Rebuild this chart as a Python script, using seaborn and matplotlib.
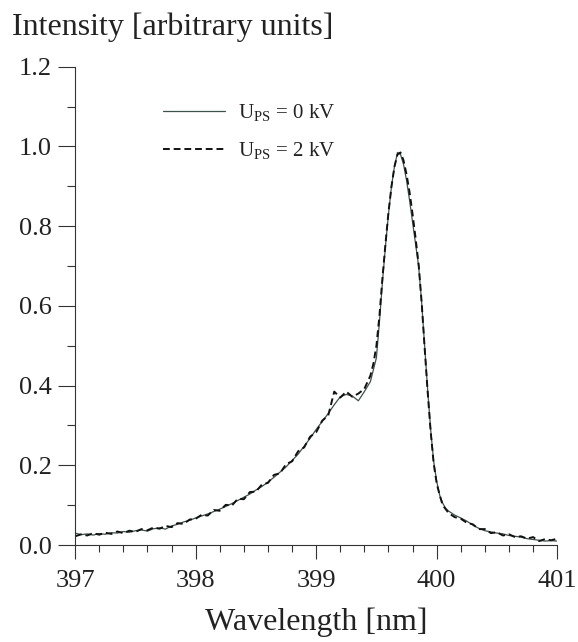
import pandas as pd
import matplotlib
matplotlib.use("Agg")
import matplotlib.pyplot as plt
from matplotlib.lines import Line2D
from matplotlib.ticker import MultipleLocator
import seaborn as sns

# Data

wavelength = [
    397.00, 397.05, 397.10, 397.15, 397.20, 397.25, 397.30, 397.35, 397.40, 397.45,
    397.50, 397.55, 397.60, 397.65, 397.70, 397.75, 397.80, 397.85, 397.90, 397.95,
    398.00, 398.05, 398.10, 398.15, 398.20, 398.25, 398.30, 398.35, 398.40, 398.45,
    398.50, 398.55, 398.60, 398.65, 398.70, 398.75, 398.80, 398.85, 398.90, 398.95,
    399.00, 399.05, 399.10, 399.15, 399.20, 399.25, 399.30, 399.35, 399.40, 399.45,
    399.475, 399.50, 399.525, 399.55, 399.575, 399.60, 399.625, 399.65, 399.675, 399.70,
    399.725, 399.75, 399.775, 399.80, 399.825, 399.85, 399.875, 399.90, 399.925, 399.95,
    399.975, 400.00, 400.025, 400.05, 400.075, 400.10, 400.15, 400.20, 400.25, 400.30,
    400.35, 400.40, 400.45, 400.50, 400.55, 400.60, 400.65, 400.70, 400.75, 400.80,
    400.85, 400.90, 400.95, 401.00,
]

ups_0kv = [
    0.030, 0.026, 0.028, 0.025, 0.029, 0.027, 0.031, 0.030, 0.034, 0.032,
    0.036, 0.038, 0.035, 0.041, 0.043, 0.040, 0.048, 0.052, 0.058, 0.062,
    0.068, 0.073, 0.078, 0.084, 0.090, 0.097, 0.104, 0.112, 0.120, 0.128,
    0.138, 0.147, 0.158, 0.170, 0.183, 0.196, 0.212, 0.228, 0.248, 0.268,
    0.290, 0.310, 0.330, 0.352, 0.372, 0.378, 0.374, 0.362, 0.385, 0.410,
    0.440, 0.470, 0.560, 0.660, 0.750, 0.830, 0.900, 0.950, 0.985, 0.980,
    0.955, 0.915, 0.865, 0.810, 0.755, 0.700, 0.610, 0.500, 0.390, 0.290,
    0.210, 0.160, 0.125, 0.105, 0.092, 0.085, 0.075, 0.068, 0.060, 0.050,
    0.042, 0.036, 0.033, 0.030, 0.028, 0.024, 0.022, 0.020, 0.016, 0.014,
    0.012, 0.010, 0.011, 0.010,
]

ups_2kv = [
    0.022, 0.027, 0.024, 0.030, 0.026, 0.031, 0.028, 0.034, 0.030, 0.036,
    0.033, 0.040, 0.037, 0.044, 0.041, 0.048, 0.045, 0.055, 0.053, 0.064,
    0.066, 0.076, 0.074, 0.088, 0.086, 0.101, 0.099, 0.116, 0.115, 0.133,
    0.134, 0.152, 0.156, 0.176, 0.180, 0.203, 0.210, 0.235, 0.245, 0.272,
    0.283, 0.312, 0.325, 0.385, 0.370, 0.385, 0.372, 0.380, 0.392, 0.425,
    0.455, 0.500, 0.575, 0.670, 0.755, 0.835, 0.900, 0.950, 0.980, 0.985,
    0.965, 0.930, 0.885, 0.830, 0.770, 0.705, 0.610, 0.495, 0.385, 0.285,
    0.205, 0.155, 0.125, 0.100, 0.090, 0.080, 0.070, 0.066, 0.056, 0.052,
    0.040, 0.040, 0.030, 0.032, 0.024, 0.027, 0.020, 0.022, 0.016, 0.020,
    0.010, 0.015, 0.012, 0.016,
]

labels = [r"U$_{\rm PS}$ = 0 kV", r"U$_{\rm PS}$ = 2 kV"]

df = pd.DataFrame({
    "wavelength": wavelength,
    "0kV": ups_0kv,
    "2kV": ups_2kv,
})

# Style

sns.set_style("ticks")
plt.rcParams["font.family"] = ["Liberation Serif", "DejaVu Serif"]
plt.rcParams["mathtext.fontset"] = "custom"
plt.rcParams["mathtext.rm"] = "Liberation Serif"
plt.rcParams["axes.edgecolor"] = "#333333"

fig = plt.figure(figsize=(5.78, 6.42), dpi=100)
ax = fig.add_axes([0.130, 0.151, 0.834, 0.745])

solid_color = "#3e524c"
dash_style = (0, (3.5, 2))

sns.lineplot(data=df, x="wavelength", y="0kV", ax=ax,
             color=solid_color, linewidth=0.9)
sns.lineplot(data=df, x="wavelength", y="2kV", ax=ax,
             color="#111111", linewidth=1.4, linestyle=dash_style)

ax.set_xlim(397, 401)
ax.set_ylim(0, 1.2)
ax.xaxis.set_major_locator(MultipleLocator(1))
ax.xaxis.set_minor_locator(MultipleLocator(0.2))
ax.yaxis.set_major_locator(MultipleLocator(0.2))
ax.yaxis.set_minor_locator(MultipleLocator(0.1))
ax.yaxis.set_major_formatter(lambda v, p: f"{v:.1f}")

ax.tick_params(which="both", direction="out", width=0.8,
               colors="#333333", labelcolor="#222222", labelsize=19)
ax.tick_params(axis="x", which="major", length=10, pad=8)
ax.tick_params(axis="x", which="minor", length=5)
ax.tick_params(axis="y", which="major", length=12, pad=5)
ax.tick_params(axis="y", which="minor", length=6)

sns.despine(ax=ax)
for side in ["left", "bottom"]:
    ax.spines[side].set_linewidth(0.8)

ax.set_xlabel("Wavelength [nm]", fontsize=23, color="#222222", labelpad=11)
ax.set_ylabel("")
fig.text(0.02, 0.958, "Intensity [arbitrary units]", fontsize=23,
         color="#222222", va="center", ha="left")

handles = [
    Line2D([], [], color=solid_color, linewidth=0.9),
    Line2D([], [], color="#111111", linewidth=1.4, linestyle=dash_style),
]
ax.legend(handles, labels, loc="upper left", bbox_to_anchor=(0.143, 0.965),
          frameon=False, fontsize=15, handlelength=3.0, handletextpad=0.6,
          labelspacing=0.8, labelcolor="#222222")

fig.savefig("out.png", dpi=100)
